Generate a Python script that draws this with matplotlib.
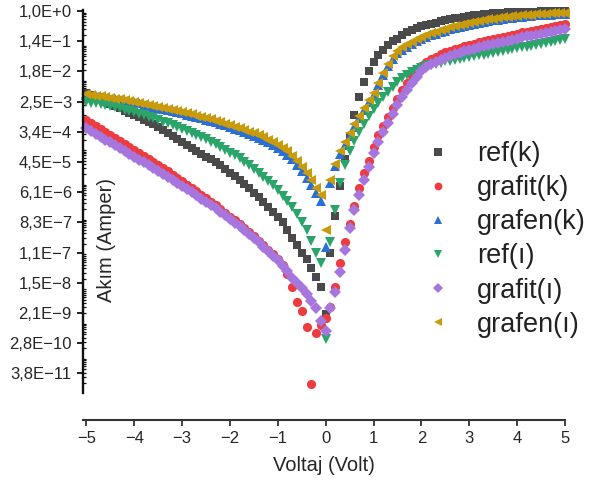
import numpy as np
import matplotlib
matplotlib.use("Agg")
import matplotlib.pyplot as plt
from matplotlib.ticker import FixedLocator, FixedFormatter

plt.rcParams['font.family'] = ['Liberation Sans', 'DejaVu Sans']

# Voltage sweep (V)
voltage = np.round(np.arange(-5.0, 5.0001, 0.1), 2)

# ln(I / A) for each series, at each voltage step
ln_ref_k = [
    -5.4, -5.55, -5.7, -5.85, -6.0, -6.15, -6.3, -6.45, -6.6, -6.75,
    -6.9, -7.05, -7.2, -7.35, -7.5, -7.65, -7.85, -8.05, -8.25, -8.45,
    -8.65, -8.85, -9.05, -9.25, -9.45, -9.65, -9.8, -10.0, -10.2, -10.45,
    -10.7, -10.95, -11.2, -11.45, -11.75, -12.05, -12.35, -12.65, -12.95, -13.3,
    -13.65, -14.0, -14.5, -15.0, -15.5, -16.0, -16.4, -17.0, -17.6, -18.3,
    -20.1,
    -16.0, -13.6, -11.6, -9.8, -8.3, -6.9, -5.7, -4.7, -4.0, -3.4,
    -2.9, -2.55, -2.25, -2.0, -1.85, -1.6, -1.42, -1.27, -1.13, -1.02,
    -0.93, -0.84, -0.76, -0.68, -0.61, -0.55, -0.49, -0.43, -0.38, -0.33,
    -0.28, -0.24, -0.2, -0.17, -0.14, -0.12, -0.1, -0.08, -0.07, -0.06,
    -0.05, -0.04, -0.03, -0.03, -0.02, -0.02, -0.01, -0.01, -0.01, 0.0,
]
ln_grafit_k = [
    -7.2, -7.4, -7.6, -7.8, -8.0, -8.2, -8.4, -8.6, -8.8, -9.0,
    -9.2, -9.4, -9.6, -9.8, -10.0, -10.2, -10.41, -10.62, -10.83, -11.05,
    -11.27, -11.49, -11.71, -11.94, -12.17, -12.4, -12.63, -12.87, -13.11, -13.36,
    -13.61, -13.86, -14.12, -14.38, -14.65, -14.93, -15.21, -15.5, -15.8, -16.1,
    -16.42, -16.8, -17.4, -18.3, -19.3, -19.9, -20.9, -24.7, -21.3, -20.8,
    -20.3,
    -19.6, -18.3, -16.7, -15.3, -14.1, -12.9, -11.7, -10.7, -9.9, -9.0,
    -8.2, -7.6, -7.0, -6.4, -5.8, -5.25, -4.75, -4.3, -3.95, -3.65,
    -3.4, -3.2, -3.02, -2.87, -2.73, -2.65, -2.54, -2.44, -2.34, -2.25,
    -2.16, -2.08, -2.0, -1.92, -1.84, -1.77, -1.7, -1.63, -1.56, -1.49,
    -1.42, -1.36, -1.29, -1.23, -1.17, -1.11, -1.05, -0.99, -0.93, -0.87,
]
ln_grafen_k = [
    -5.55, -5.6, -5.65, -5.7, -5.75, -5.8, -5.85, -5.9, -5.95, -6.0,
    -6.05, -6.12, -6.19, -6.26, -6.33, -6.4, -6.47, -6.55, -6.62, -6.7,
    -6.78, -6.86, -6.94, -7.02, -7.1, -7.19, -7.28, -7.37, -7.47, -7.57,
    -7.68, -7.79, -7.9, -8.02, -8.14, -8.27, -8.4, -8.55, -8.7, -8.87,
    -9.05, -9.27, -9.52, -9.83, -10.2, -10.6, -11.05, -11.5, -12.05, -12.6,
    -15.6,
    -11.4, -10.25, -9.45, -8.85, -8.25, -7.65, -7.1, -6.55, -6.05, -5.55,
    -4.9, -4.25, -3.65, -3.15, -2.8, -2.55, -2.35, -2.17, -2.0, -1.86,
    -1.73, -1.61, -1.5, -1.4, -1.3, -1.21, -1.12, -1.04, -0.97, -0.9,
    -0.83, -0.77, -0.71, -0.66, -0.61, -0.56, -0.52, -0.48, -0.44, -0.41,
    -0.38, -0.35, -0.32, -0.29, -0.27, -0.25, -0.23, -0.21, -0.19, -0.17,
]
ln_ref_i = [
    -6.0, -6.06, -6.12, -6.18, -6.24, -6.31, -6.38, -6.45, -6.53, -6.61,
    -6.7, -6.8, -6.9, -7.0, -7.1, -7.21, -7.32, -7.43, -7.55, -7.67,
    -7.8, -7.93, -8.06, -8.2, -8.34, -8.5, -8.66, -8.82, -9.0, -9.18,
    -9.37, -9.56, -9.76, -9.97, -10.2, -10.45, -10.7, -10.97, -11.25, -11.55,
    -11.87, -12.22, -12.6, -13.0, -13.45, -13.95, -14.5, -15.2, -16.0, -16.7,
    -21.7,
    -15.3, -13.2, -11.4, -10.2, -9.3, -8.6, -8.0, -7.45, -6.95, -6.5,
    -6.1, -5.7, -5.35, -5.0, -4.7, -4.45, -4.25, -4.07, -3.91, -3.77,
    -3.65, -3.55, -3.48, -3.41, -3.34, -3.28, -3.22, -3.16, -3.1, -3.05,
    -2.99, -2.94, -2.89, -2.83, -2.77, -2.71, -2.65, -2.59, -2.53, -2.47,
    -2.41, -2.35, -2.29, -2.23, -2.17, -2.11, -2.05, -1.99, -1.93, -1.87,
]
ln_grafit_i = [
    -7.75, -7.94, -8.13, -8.32, -8.51, -8.7, -8.89, -9.08, -9.27, -9.46,
    -9.65, -9.84, -10.03, -10.22, -10.41, -10.6, -10.8, -11.0, -11.2, -11.4,
    -11.6, -11.8, -12.0, -12.21, -12.42, -12.63, -12.85, -13.07, -13.3, -13.53,
    -13.77, -14.01, -14.26, -14.51, -14.77, -15.04, -15.32, -15.6, -15.9, -16.2,
    -16.52, -16.87, -17.25, -17.65, -18.0, -18.35, -18.75, -19.2, -19.7, -20.5,
    -21.2,
    -19.7, -18.6, -17.3, -15.8, -14.4, -13.2, -12.2, -11.2, -10.3, -9.4,
    -8.7, -8.0, -7.4, -6.8, -6.25, -5.7, -5.2, -4.75, -4.35, -4.0,
    -3.72, -3.5, -3.35, -3.22, -3.1, -2.98, -2.87, -2.77, -2.67, -2.58,
    -2.49, -2.41, -2.33, -2.25, -2.17, -2.1, -2.03, -1.96, -1.89, -1.82,
    -1.75, -1.68, -1.62, -1.56, -1.5, -1.44, -1.38, -1.32, -1.27, -1.22,
]
ln_grafen_i = [
    -5.5, -5.55, -5.6, -5.65, -5.7, -5.75, -5.8, -5.85, -5.9, -5.95,
    -6.0, -6.07, -6.14, -6.21, -6.28, -6.35, -6.42, -6.49, -6.56, -6.63,
    -6.7, -6.77, -6.84, -6.92, -7.0, -7.08, -7.16, -7.25, -7.35, -7.45,
    -7.55, -7.65, -7.76, -7.87, -7.98, -8.1, -8.23, -8.37, -8.52, -8.68,
    -8.85, -9.05, -9.3, -9.6, -9.95, -10.35, -10.75, -11.2, -11.7, -12.2,
    -14.5,
    -11.2, -10.1, -9.3, -8.7, -8.1, -7.5, -6.95, -6.4, -5.9, -5.4,
    -4.75, -4.1, -3.5, -3.0, -2.65, -2.4, -2.2, -2.02, -1.86, -1.72,
    -1.59, -1.47, -1.36, -1.26, -1.17, -1.08, -1.0, -0.92, -0.85, -0.78,
    -0.72, -0.66, -0.6, -0.55, -0.5, -0.46, -0.42, -0.38, -0.35, -0.32,
    -0.29, -0.26, -0.23, -0.21, -0.19, -0.17, -0.15, -0.13, -0.11, -0.1,
]

series_names = ["ref(k)", "grafit(k)", "grafen(k)", "ref(ı)", "grafit(ı)", "grafen(ı)"]
series_ln = [ln_ref_k, ln_grafit_k, ln_grafen_k, ln_ref_i, ln_grafit_i, ln_grafen_i]
series_colors = ["#4a4a4a", "#ee3b3f", "#2a6fd4", "#2aa468", "#a676de", "#c99a0a"]
series_markers = ["s", "o", "^", "v", "D", "<"]
series_ms = [6.0, 6.6, 7.3, 7.3, 5.9, 7.3]

xticks = [-5, -4, -3, -2, -1, 0, 1, 2, 3, 4, 5]
ytick_exponents = [0, -2, -4, -6, -8, -10, -12, -14, -16, -18, -20, -22, -24]
ytick_labels = ["1,0E+0", "1,4E\u22121", "1,8E\u22122", "2,5E\u22123", "3,4E\u22124",
                "4,5E\u22125", "6,1E\u22126", "8,3E\u22127", "1,1E\u22127", "1,5E\u22128",
                "2,1E\u22129", "2,8E\u221210", "3,8E\u221211"]

W, H = 603, 486
fig = plt.figure(figsize=(W / 100, H / 100), dpi=100)
ax_left, ax_right, ax_top, ax_bot = 83, 565, 10, 393
ax = fig.add_axes([ax_left / W, 1 - ax_bot / H, (ax_right - ax_left) / W, (ax_bot - ax_top) / H])

for name, lnv, col, mk, ms in zip(series_names, series_ln, series_colors, series_markers, series_ms):
    ax.plot(voltage, np.exp(np.array(lnv)), linestyle="none", marker=mk, ms=ms,
            color=col, markeredgewidth=0, label=name, clip_on=False)

ax.set_yscale("log", base=np.e)
ax.set_ylim(np.exp(-25.3), np.exp(0.07))
ax.set_xlim(-5.07, 5.0)

ax.yaxis.set_major_locator(FixedLocator(np.exp(np.array(ytick_exponents, dtype=float))))
ax.yaxis.set_major_formatter(FixedFormatter(ytick_labels))
minor_pos = [k * 10.0 ** n for n in range(-12, 1) for k in range(1, 10)]
ax.yaxis.set_minor_locator(FixedLocator(minor_pos))
ax.yaxis.set_minor_formatter(FixedFormatter([]))
ax.set_xticks(xticks)

text_col = "#262626"
for s in ["top", "right"]:
    ax.spines[s].set_visible(False)
ax.spines["left"].set_linewidth(1.7)
ax.spines["bottom"].set_linewidth(1.5)
ax.spines["left"].set_color("#111111")
ax.spines["bottom"].set_color("#333333")
ax.spines["bottom"].set_position(("outward", 27 * 0.72))

ax.tick_params(axis="y", which="major", direction="out", length=4.5, width=1.3,
               labelsize=12, pad=3.5, colors="#111111", labelcolor=text_col)
ax.tick_params(axis="y", which="minor", direction="in", length=2.5, width=0.9, colors="#111111")
ax.tick_params(axis="x", which="major", direction="out", length=4, width=1.3,
               labelsize=12, pad=4, colors="#333333", labelcolor=text_col)
ax.tick_params(axis="x", which="minor", bottom=False)

ax.set_xlabel("Voltaj (Volt)", fontsize=14.5, color=text_col, labelpad=7)
ax.set_ylabel("Akım (Amper)", fontsize=14.5, color=text_col)
ax.yaxis.set_label_coords(0.048, 0.40)
ax.yaxis.label.set_va("center")

leg = ax.legend(loc="upper left", bbox_to_anchor=(424 / W, 1 - 141 / H),
                bbox_transform=fig.transFigure, frameon=False, fontsize=19.5,
                handlelength=1.0, handletextpad=0.95, labelspacing=0.3,
                borderpad=0, borderaxespad=0, markerscale=0.85)
for t in leg.get_texts():
    t.set_color("#222222")

fig.savefig("out.png", dpi=100)
